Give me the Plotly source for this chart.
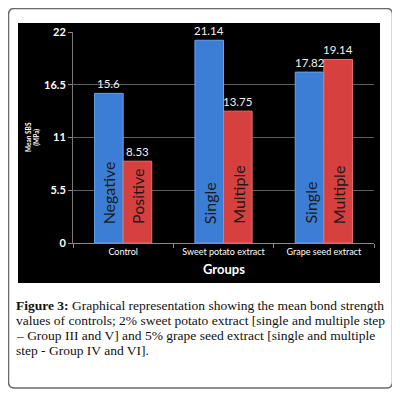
import plotly.graph_objects as go

categories = ["Control", "Sweet potato extract", "Grape seed extract"]
series1_values = [15.6, 21.14, 17.82]
series2_values = [8.53, 13.75, 19.14]
series1_value_text = ["15.6", "21.14", "17.82"]
series2_value_text = ["8.53", "13.75", "19.14"]
series1_labels = ["Negative", "Single", "Single"]
series2_labels = ["Positive", "Multiple", "Multiple"]
y_ticks = [0, 5.5, 11, 16.5, 22]
y_tick_labels = ["0", "5.5", "11", "16.5", "22"]
caption_lines = [
    "<b>Figure 3:</b> Graphical representation showing the mean bond strength",
    "values of controls; 2% sweet potato extract [single and multiple step",
    "– Group III and V] and 5% grape seed extract [single and multiple",
    "step - Group IV and VI].",
]

# page body has an 8px margin; work in page pixels and convert
OFF = 8
W, H = 400 - OFF, 396 - OFF
PL, PR, PT, PB = 73, 374, 32, 243
L, T = PL - OFF, PT - OFF
R = W - (PR - OFF)
B = H - (PB - OFF)
PW = PR - PL
PH = PB - PT

def px(x):
    return (x - PL) / PW

def py(y):
    return (PB - y) / PH

BLUE = "#3c7ed5"
RED = "#d6403f"

fig = go.Figure()
fig.add_bar(x=categories, y=series1_values, marker=dict(color=BLUE, line=dict(color="#6aa2e8", width=1)),
            name="s1", hoverinfo="skip")
fig.add_bar(x=categories, y=series2_values, marker=dict(color=RED, line=dict(color="#ea7272", width=1)),
            name="s2", hoverinfo="skip")

bx0, bx1, by0, by1, rr = 8.5, 392.5, 8.5, 388, 6
shapes = [
    dict(type="path", xref="paper", yref="paper",
         path=(f"M {px(bx0+rr)},{py(by0)} L {px(bx1-rr)},{py(by0)} Q {px(bx1)},{py(by0)} {px(bx1)},{py(by0+rr)} "
               f"L {px(bx1)},{py(by1-rr)} Q {px(bx1)},{py(by1)} {px(bx1-rr)},{py(by1)} "
               f"L {px(bx0+rr)},{py(by1)} Q {px(bx0)},{py(by1)} {px(bx0)},{py(by1-rr)} "
               f"L {px(bx0)},{py(by0+rr)} Q {px(bx0)},{py(by0)} {px(bx0+rr)},{py(by0)} Z"),
         line=dict(color="#6a6a6a", width=1.5), fillcolor="white", layer="below"),
    dict(type="rect", xref="paper", yref="paper", x0=px(18), x1=px(380), y0=py(283), y1=py(23),
         line=dict(width=0), fillcolor="black", layer="below"),
]

annotations = []
offset = 14.3
font_chart = "Lato, 'Open Sans', sans-serif"
for i, c in enumerate(categories):
    for vals, vtxt, labs, sh in ((series1_values, series1_value_text, series1_labels, -offset),
                                 (series2_values, series2_value_text, series2_labels, offset)):
        annotations.append(dict(x=c, y=vals[i], xref="x", yref="y", text=vtxt[i],
                                showarrow=False, yanchor="bottom", xshift=sh, yshift=1,
                                font=dict(family=font_chart, size=11.5, color="#f2f2f2")))
        annotations.append(dict(x=c, y=0, xref="x", yref="y", text=labs[i], textangle=-90,
                                showarrow=False, yanchor="bottom", xshift=sh, yshift=17,
                                font=dict(family=font_chart, size=16, color="#1a1a1a")))

annotations.append(dict(x=px(33), y=py(137), xref="paper", yref="paper", text="<b>Mean SBS<br>(MPa)</b>",
                        textangle=-90, showarrow=False, xanchor="center", yanchor="middle",
                        font=dict(family=font_chart, size=6.5, color="white")))
annotations.append(dict(x=px(223.5), y=py(269), xref="paper", yref="paper", text="<b>Groups</b>",
                        showarrow=False, xanchor="center", yanchor="middle",
                        font=dict(family=font_chart, size=13, color="white")))
for k, line in enumerate(caption_lines):
    annotations.append(dict(x=px(14), y=py(305 + 15 * k), xref="paper", yref="paper", text=line,
                            xanchor="left", yanchor="middle", showarrow=False,
                            font=dict(family="'Liberation Serif', 'Times New Roman', serif", size=13.5,
                                      color="#111")))

fig.update_layout(
    width=W, height=H, margin=dict(l=L, r=R, t=T, b=B, autoexpand=False),
    paper_bgcolor="white", plot_bgcolor="#3f3f3b",
    barmode="group", bargap=0.43, bargroupgap=0,
    showlegend=False, shapes=shapes, annotations=annotations,
    xaxis=dict(type="category", showgrid=False, showline=True, linecolor="#8a8a8a", linewidth=1,
               ticks="outside", tickson="boundaries", ticklen=4, tickcolor="#8a8a8a",
               tickfont=dict(family=font_chart, size=9, color="white")),
    yaxis=dict(range=[0, 22], tickvals=y_ticks, ticktext=y_tick_labels, showgrid=True, gridcolor="#5e5e5a",
               gridwidth=1, showline=True, linecolor="#7a7a7a", ticks="outside", ticklen=4,
               tickcolor="#8a8a8a", zeroline=False,
               tickfont=dict(family=font_chart, size=11, color="white", weight="bold")),
)

fig.write_html("out.html")
